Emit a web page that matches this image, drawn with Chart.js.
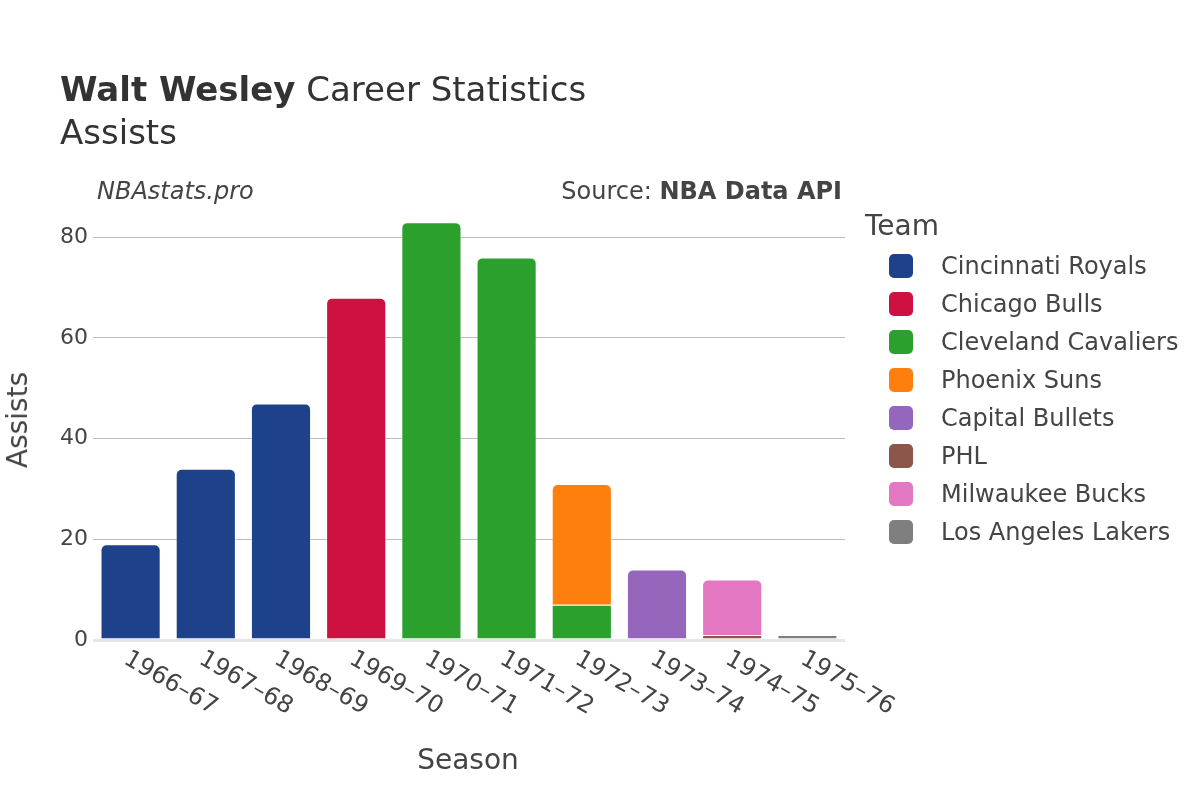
<!DOCTYPE html>
<html>
<head>
<meta charset="utf-8">
<script src="https://cdn.jsdelivr.net/npm/chart.js@4"></script>
<style>
  html, body { margin: 0; padding: 0; background: #fff; }
  body { width: 1200px; height: 800px; position: relative; overflow: hidden; font-family: "DejaVu Sans", sans-serif; color: #333; }
  #wrap { position: absolute; left: 0; top: 0; width: 1200px; height: 800px; }
  .t { position: absolute; white-space: nowrap; line-height: 1; }
  #title { left: 60px; top: 72px; font-size: 34px; color: #333; }
  #subtitle { left: 60px; top: 115px; font-size: 34px; color: #333; }
  #brand { left: 97px; top: 179px; font-size: 24px; font-style: italic; color: #444; }
  #source { right: 358px; top: 179px; font-size: 24px; color: #444; }
  #ytitle { left: 18px; top: 420px; font-size: 28px; color: #444; transform: translate(-50%, -50%) rotate(-90deg); }
  #xtitle { left: 468px; top: 760px; font-size: 28px; color: #444; transform: translate(-50%, -50%); }
  #legend { position: absolute; left: 865px; top: 210px; white-space: nowrap; }
  #legend .lt { font-size: 28px; color: #444; height: 42px; line-height: 32px; }
  #legend .it { position: relative; height: 38px; font-size: 24px; color: #444; white-space: nowrap; }
  #legend .sw { position: absolute; left: 24px; top: 2px; width: 24px; height: 24px; border-radius: 5px; }
  #legend .lb { position: absolute; left: 76px; top: 0px; line-height: 28px; white-space: nowrap; }
</style>
</head>
<body>
<div id="wrap"><canvas id="c" width="1200" height="800"></canvas></div>
<div class="t" id="title"><b>Walt Wesley</b> Career Statistics</div>
<div class="t" id="subtitle">Assists</div>
<div class="t" id="brand">NBAstats.pro</div>
<div class="t" id="source">Source: <b>NBA Data API</b></div>
<div class="t" id="ytitle">Assists</div>
<div class="t" id="xtitle">Season</div>
<div id="legend"></div>
<script>
// ---- data ----
const seasons = ['1966–67','1967–68','1968–69','1969–70','1970–71','1971–72','1972–73','1973–74','1974–75','1975–76'];
const teams = ['Cincinnati Royals','Chicago Bulls','Cleveland Cavaliers','Phoenix Suns','Capital Bullets','PHL','Milwaukee Bucks','Los Angeles Lakers'];
const teamColors = ['#1D428A','#CE1141','#2CA02C','#FF7F0E','#9467BD','#8C564B','#E377C2','#7F7F7F'];
const cincinnatiRoyals  = [19, 34, 47, null, null, null, null, null, null, null];
const chicagoBulls      = [null, null, null, 68, null, null, null, null, null, null];
const clevelandCavaliers= [null, null, null, null, 83, 76, 7, null, null, null];
const phoenixSuns       = [null, null, null, null, null, null, 24, null, null, null];
const capitalBullets    = [null, null, null, null, null, null, null, 14, null, null];
const phl               = [null, null, null, null, null, null, null, null, 1, null];
const milwaukeeBucks    = [null, null, null, null, null, null, null, null, 11, null];
const losAngelesLakers  = [null, null, null, null, null, null, null, null, null, 1];
const yTicks = [0, 20, 40, 60, 80];

const seriesValues = [cincinnatiRoyals, chicagoBulls, clevelandCavaliers, phoenixSuns, capitalBullets, phl, milwaukeeBucks, losAngelesLakers];

// topmost dataset per season (for rounded corners)
function isTop(di, idx) {
  for (let k = seriesValues.length - 1; k >= 0; k--) {
    if (seriesValues[k][idx] !== null && seriesValues[k][idx] !== undefined) return k === di;
  }
  return false;
}

const datasets = teams.map((name, i) => ({
  label: name,
  data: seriesValues[i],
  backgroundColor: teamColors[i],
  borderColor: 'rgba(255,255,255,0.55)',
  borderWidth: 1,
  borderSkipped: 'start',
  borderRadius: (ctx) => isTop(ctx.datasetIndex, ctx.dataIndex) ? {topLeft: 6, topRight: 6, bottomLeft: 0, bottomRight: 0} : {topLeft: 0, topRight: 0, bottomLeft: 0, bottomRight: 0},
  stack: 's',
  barPercentage: 0.8,
  categoryPercentage: 1.0
}));

// legend
const leg = document.getElementById('legend');
leg.innerHTML = '<div class="lt">Team</div>' + teams.map((n, i) =>
  `<div class="it"><span class="sw" style="background:${teamColors[i]}"></span><span class="lb">${n}</span></div>`).join('');

const xLabelPlugin = {
  id: 'xLabels',
  afterDraw(chart) {
    const ctx = chart.ctx;
    const xs = chart.scales.x;
    ctx.save();
    ctx.font = '24px "DejaVu Sans"';
    ctx.fillStyle = '#444';
    ctx.textAlign = 'left';
    ctx.textBaseline = 'top';
    seasons.forEach((s, i) => {
      const x = xs.getPixelForValue(i);
      ctx.save();
      ctx.translate(x + 1, 647);
      ctx.rotate(Math.PI / 6);
      ctx.fillText(s, 0, 0);
      ctx.restore();
    });
    ctx.restore();
  }
};

new Chart(document.getElementById('c'), {
  type: 'bar',
  data: { labels: seasons, datasets },
  plugins: [xLabelPlugin],
  options: {
    responsive: false,
    animation: false,
    devicePixelRatio: 1,
    layout: { padding: { left: 0, right: 355, top: 200, bottom: 160 } },
    plugins: { legend: { display: false }, title: { display: false }, tooltip: { enabled: false } },
    scales: {
      x: {
        stacked: true,
        grid: { display: false },
        border: { display: false },
        ticks: { display: false },
        afterFit(scale) { scale.height = 0; }
      },
      y: {
        stacked: true,
        min: 0,
        max: 87.4,
        afterFit(scale) { scale.width = 93; },
        afterBuildTicks(scale) { scale.ticks = yTicks.map(v => ({ value: v })); },
        border: { display: false },
        grid: {
          drawTicks: false,
          color: (c) => c.tick && c.tick.value === 0 ? '#e6e6e6' : '#bdbdbd',
          lineWidth: (c) => c.tick && c.tick.value === 0 ? 3 : 1
        },
        ticks: {
          padding: 5,
          color: '#444',
          font: { family: 'DejaVu Sans', size: 22 }
        }
      }
    }
  }
});
</script>
</body>
</html>
